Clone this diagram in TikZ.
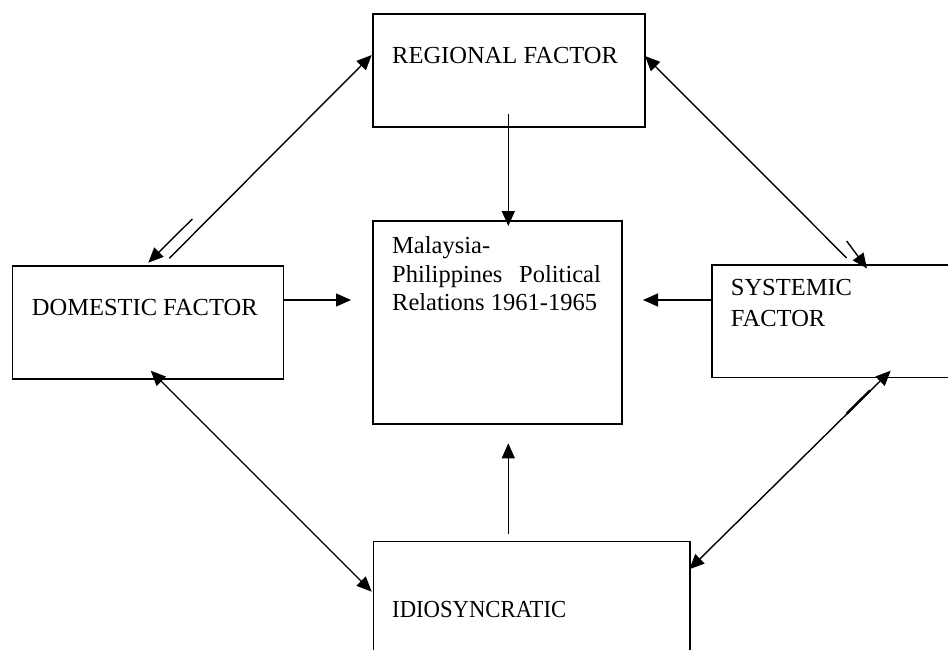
\documentclass[tikz,border=0pt]{standalone}
\usepackage{fontspec}
\setmainfont{Liberation Serif}
\usetikzlibrary{arrows.meta}
\begin{document}
\begin{tikzpicture}[x=1pt,y=-1pt,
  box/.style={draw, line width=1.6pt, rectangle, inner sep=0pt, anchor=north west},
  lbl/.style={anchor=base west, inner sep=0pt, font=\fontsize{24.5}{28.7}\selectfont},
  conn/.style={line width=1.4pt},
  tipend/.style={-{Triangle[length=15pt,width=13pt]}},
  tipboth/.style={{Triangle[length=15pt,width=13pt]}-{Triangle[length=15pt,width=13pt]}}
]
\useasboundingbox (0,0) rectangle (948,650);
\clip (0,0) rectangle (948,650);
\fill[white] (0,0) rectangle (948,650);

% boxes
\node[box, minimum width=271.7pt, minimum height=112.7pt] (reg) at (372.3,13.3) {};
\node[box, minimum width=271pt, minimum height=113pt] (dom) at (11.7,265.3) {};
\node[box, minimum width=248.7pt, minimum height=203.3pt] (cen) at (372.3,220) {};
\node[box, minimum width=260pt, minimum height=112.7pt] (sys) at (711,264) {};
\node[box, minimum width=316.3pt, minimum height=130pt] (idio) at (372.7,540.7) {};

% texts
\node[lbl] (tReg) at (392,63.3) {REGIONAL FACTOR};
\node[lbl] (tDom) at (31.7,315) {DOMESTIC FACTOR};
\node[lbl] (tSys1) at (730.7,295.7) {SYSTEMIC};
\node[lbl] (tSys2) at (730.7,326.7) {FACTOR};
\node[lbl] (tCen1) at (392,253.3) {Malaysia-};
\node[lbl] (tCen2) at (392,282.3) {\makebox[208.7pt][s]{Philippines Political}};
\node[lbl] (tCen3) at (392,310.7) {Relations 1961-1965};
\node[lbl] (tIdio) at (392,617.3) {\resizebox{174pt}{\height}{IDIOSYNCRATIC}};

% connector end points
\coordinate (rdA) at (169.3,258.3);
\coordinate (rdB) at (371.7,55);
\coordinate (rdC) at (192.3,219);
\coordinate (rdD) at (148.3,262.7);
\coordinate (rsA) at (846.7,258);
\coordinate (rsB) at (645,56);
\coordinate (rsC) at (846.7,241);
\coordinate (rsD) at (867,268.5);
\coordinate (diA) at (150.7,370.7);
\coordinate (diB) at (371.7,591.7);
\coordinate (siA) at (890.7,370.7);
\coordinate (siB) at (689.3,569.3);
\coordinate (siC) at (846.7,413.6);
\coordinate (siD) at (870,390.5);
\coordinate (rcA) at (508.3,114);
\coordinate (rcB) at (508.3,226);
\coordinate (dcA) at (283,300);
\coordinate (dcB) at (351,300);
\coordinate (scA) at (711,300);
\coordinate (scB) at (643,300);
\coordinate (icA) at (508.3,534);
\coordinate (icB) at (508.3,443.3);

% connectors
\draw[conn, tipend] (rdA) -- (rdB);
\draw[conn, tipend] (rdC) -- (rdD);
\draw[conn, tipend] (rsA) -- (rsB);
\draw[conn, tipend] (rsC) -- (rsD);
\draw[conn, tipboth] (diA) -- (diB);
\draw[conn, tipboth] (siA) -- (siB);
\draw[line width=2.4pt] (siC) -- (siD);
\draw[conn, tipend] (rcA) -- (rcB);
\draw[conn, tipend] (dcA) -- (dcB);
\draw[conn, tipend] (scA) -- (scB);
\draw[conn, tipend] (icA) -- (icB);
\end{tikzpicture}
\end{document}
